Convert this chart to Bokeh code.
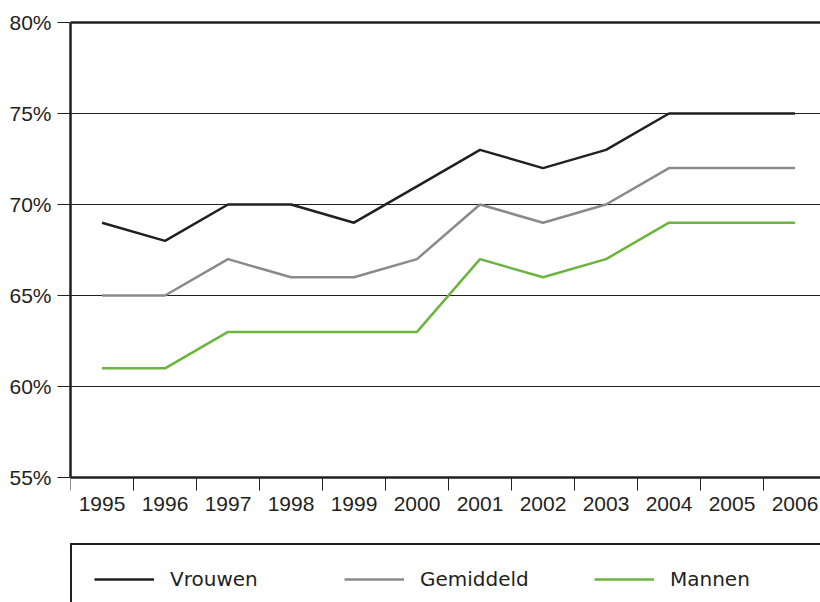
from bokeh.plotting import figure
from bokeh.models import Range1d, FixedTicker, Legend, LegendItem, Span, ColumnDataSource
from bokeh.embed import file_html
from bokeh.resources import INLINE

years = ["1995", "1996", "1997", "1998", "1999", "2000",
         "2001", "2002", "2003", "2004", "2005", "2006"]
vrouwen = [69, 68, 70, 70, 69, 71, 73, 72, 73, 75, 75, 75]
gemiddeld = [65, 65, 67, 66, 66, 67, 70, 69, 70, 72, 72, 72]
mannen = [61, 61, 63, 63, 63, 63, 67, 66, 67, 69, 69, 69]
y_ticks = [55, 60, 65, 70, 75, 80]
y_tick_labels = ["55%", "60%", "65%", "70%", "75%", "80%"]
series_names = ["Vrouwen", "Gemiddeld", "Mannen"]

DARK = "#231f20"
GRAY = "#8a8a8a"
GREEN = "#6cb33f"

W, H = 820, 602
LEFT, TOP = 70, 20
Y_AXIS_PX = 477           # pixel row of the 55% baseline
PX_PER_PCT = 455 / 25     # 80% at row 22, 55% at row 477
PX_PER_YEAR = 63

x = list(range(len(years)))
src = ColumnDataSource(dict(x=x, vrouwen=vrouwen, gemiddeld=gemiddeld, mannen=mannen))

y_lo = y_ticks[0] - (H - Y_AXIS_PX) / PX_PER_PCT
y_hi = y_ticks[-1] + (22 - TOP) / PX_PER_PCT
x_lo = -0.5
x_hi = x_lo + (W - LEFT) / PX_PER_YEAR

p = figure(width=W, height=H, output_backend="svg", toolbar_location=None,
           x_range=Range1d(x_lo, x_hi), y_range=Range1d(y_lo, y_hi),
           min_border_left=LEFT, min_border_right=0, min_border_top=TOP, min_border_bottom=0)
p.outline_line_color = None
p.background_fill_color = "white"
p.border_fill_color = "white"

# grid
p.xgrid.visible = False
p.ygrid.ticker = FixedTicker(ticks=y_ticks[1:-1])
p.ygrid.grid_line_color = DARK
p.ygrid.grid_line_width = 1.2
top_line = Span(location=y_ticks[-1], dimension="width", line_color=DARK, line_width=2.6)
p.add_layout(top_line)

# y axis
p.yaxis.ticker = FixedTicker(ticks=y_ticks)
p.yaxis.bounds = (y_ticks[0], y_ticks[-1])
p.yaxis.major_label_overrides = {t: l for t, l in zip(y_ticks, y_tick_labels)}
p.yaxis.major_tick_out = 13
p.yaxis.major_tick_in = 0
p.yaxis.major_tick_line_color = DARK
p.yaxis.major_tick_line_width = 1
p.yaxis.minor_tick_line_color = None
p.yaxis.axis_line_color = DARK
p.yaxis.axis_line_width = 2.5
p.yaxis.major_label_standoff = 6
p.yaxis.major_label_text_font = "Liberation Sans"
p.yaxis.major_label_text_font_size = "21px"
p.yaxis.major_label_text_color = DARK

# x axis, drawn at the 55% baseline
p.xaxis.fixed_location = y_ticks[0]
p.xaxis.ticker = FixedTicker(ticks=x, minor_ticks=[i - 0.5 for i in range(len(years) + 1)])
p.xaxis.major_label_overrides = {i: y for i, y in zip(x, years)}
p.xaxis.major_tick_line_color = None
p.xaxis.major_tick_out = 0
p.xaxis.major_tick_in = 0
p.xaxis.minor_tick_out = 13
p.xaxis.minor_tick_in = 0
p.xaxis.minor_tick_line_color = DARK
p.xaxis.minor_tick_line_width = 1
p.xaxis.axis_line_color = DARK
p.xaxis.axis_line_width = 2.5
p.xaxis.major_label_standoff = 6
p.xaxis.major_label_text_font = "Liberation Sans"
p.xaxis.major_label_text_font_size = "21px"
p.xaxis.major_label_text_color = DARK

r_g = p.line("x", "gemiddeld", source=src, line_color=GRAY, line_width=2.5)
r_m = p.line("x", "mannen", source=src, line_color=GREEN, line_width=2.5)
r_v = p.line("x", "vrouwen", source=src, line_color=DARK, line_width=2.5)

legend = Legend(
    items=[LegendItem(label=series_names[0], renderers=[r_v]),
           LegendItem(label=series_names[1], renderers=[r_g]),
           LegendItem(label=series_names[2], renderers=[r_m])],
    orientation="horizontal", location=(0, -13), margin=0,
    padding=22, spacing=24, glyph_width=60, glyph_height=20,
    label_standoff=16, label_width=150, label_height=20,
    label_text_font="DejaVu Sans", label_text_font_size="20px", label_text_color=DARK,
    border_line_color=DARK, border_line_width=2.6, border_line_alpha=1.0,
    background_fill_alpha=0,
)
p.add_layout(legend, "center")

open("out.html", "w").write(file_html(p, INLINE))
